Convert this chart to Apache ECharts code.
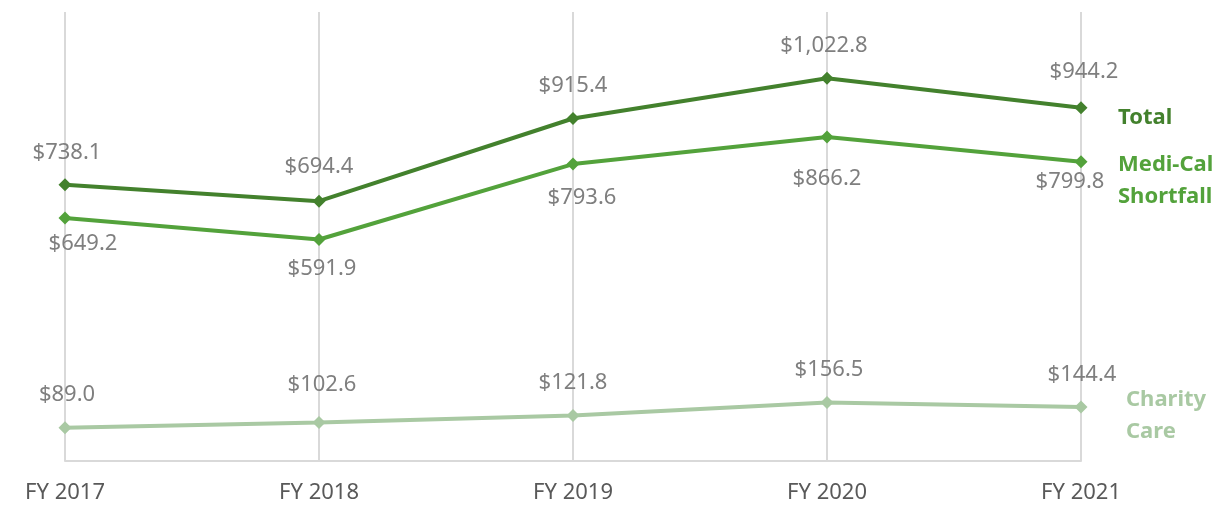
<!DOCTYPE html>
<html>
<head>
<meta charset="utf-8">
<script src="https://cdn.jsdelivr.net/npm/echarts@6/dist/echarts.min.js"></script>
<style>html,body{margin:0;padding:0;background:#fff}#c{width:1222px;height:508px}</style>
</head>
<body>
<div id="c"></div>
<script>
const categories = ['FY 2017', 'FY 2018', 'FY 2019', 'FY 2020', 'FY 2021'];
const totalValues = [738.1, 694.4, 915.4, 1022.8, 944.2];
const mediCalValues = [649.2, 591.9, 793.6, 866.2, 799.8];
const charityValues = [89.0, 102.6, 121.8, 156.5, 144.4];
const seriesNames = ['Total', 'Medi-Cal Shortfall', 'Charity Care'];

const FONT = 'Noto Sans';
function money(v) {
  return '$' + Number(v).toLocaleString('en-US', {minimumFractionDigits: 1, maximumFractionDigits: 1});
}
// small per-point label nudges (styling only)
const nudges = {
  total: [[2, 0], [0, -2], [0, 0], [-3, 0], [3, -3]],
  medi: [[18, 1], [3, 5], [9, 9], [0, 17], [-11, -5]],
  charity: [[2, 0], [3, -5], [0, 0], [2, 0], [1, 0]]
};
function mkSeries(name, values, nudge, color, labelPos, labelDist, endText, endOffset) {
  return {
    name: name, type: 'line',
    data: values.map((v, i) => ({value: v, label: {offset: nudge[i]}})),
    symbol: 'diamond', symbolSize: 13,
    lineStyle: {color: color, width: 4},
    itemStyle: {color: color},
    label: {show: true, position: labelPos, distance: labelDist, color: '#7f7f7f',
      fontFamily: FONT, fontSize: 22, formatter: p => money(p.value)},
    endLabel: {show: true, formatter: endText, color: color, fontFamily: FONT,
      fontWeight: 'bold', fontSize: 22, lineHeight: 32, align: 'left',
      verticalAlign: 'middle', distance: 5, offset: endOffset},
    emphasis: {disabled: true},
    animation: false
  };
}
const chart = echarts.init(document.getElementById('c'));
chart.setOption({
  backgroundColor: '#fff',
  animation: false,
  grid: {left: 65, right: 141, top: 12, bottom: 47},
  xAxis: {
    type: 'category', data: categories, boundaryGap: false,
    axisLine: {lineStyle: {color: '#d9d9d9', width: 2}},
    axisTick: {show: false},
    splitLine: {show: true, lineStyle: {color: '#d9d9d9', width: 2}},
    axisLabel: {color: '#595959', fontFamily: FONT, fontSize: 22, margin: 21}
  },
  yAxis: {
    type: 'value', min: 0, max: 1200, show: false,
    splitLine: {show: false}
  },
  series: [
    mkSeries(seriesNames[0], totalValues, nudges.total, '#43812d', 'top', 15, 'Total', [32, 10]),
    mkSeries(seriesNames[1], mediCalValues, nudges.medi, '#53a23b', 'bottom', 7, 'Medi-Cal\nShortfall', [32, 19]),
    mkSeries(seriesNames[2], charityValues, nudges.charity, '#a9c9a3', 'top', 15, 'Charity\nCare', [40, 9])
  ]
});
</script>
</body>
</html>
